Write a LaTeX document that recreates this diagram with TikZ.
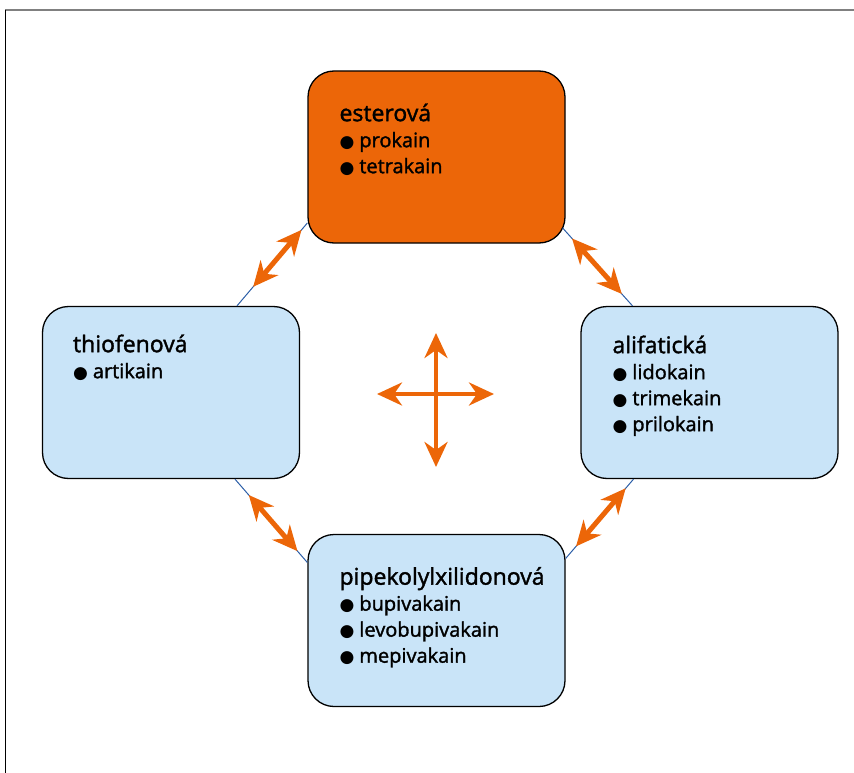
\documentclass[tikz,border=0pt]{standalone}
\usepackage{fontspec}
\setmainfont{Open Sans}[FakeBold=1.6]
\newfontfamily\symfont{DejaVu Sans}
\usetikzlibrary{arrows.meta,positioning}
\definecolor{esterorange}{RGB}{236,102,8}
\definecolor{groupblue}{RGB}{201,228,248}
\definecolor{linkblue}{RGB}{43,94,167}
\newcommand{\blt}{{\symfont\fontsize{17}{17}\selectfont ●}\hspace{5pt}}
\newcommand{\grp}[1]{{\fontsize{23}{26}\selectfont #1}}

\begin{document}
\begin{tikzpicture}[x=1pt,y=-1pt,
  group/.style={draw=black, line width=1.3pt, rounded corners=26pt,
    minimum width=257pt, minimum height=172pt, inner sep=0pt},
  names/.style={anchor=north west, align=left, inner sep=0pt,
    font=\fontsize{20}{26}\selectfont},
  link/.style={draw=linkblue, line width=1pt},
  swap/.style={draw=esterorange, line width=5pt,
    {Stealth[length=25pt,width=23pt,inset=8pt]}-{Stealth[length=25pt,width=23pt,inset=8pt]}}]
\useasboundingbox (0,0) rectangle (854,773);
\draw[gray, line width=2pt] (5,10) -- (854,10);
\draw[black, line width=0.8pt] (5,10) -- (5,773);

\node[group, fill=esterorange] (ester) at (436.5,157) {};
\node[group, fill=groupblue] (thio) at (171,392.5) {};
\node[group, fill=groupblue] (alif) at (709.5,392.5) {};
\node[group, fill=groupblue] (pipek) at (436.5,620.5) {};

\node[names] (esterT) at ([xshift=32pt,yshift=-33pt]ester.north west)
  {\grp{esterová}\\\blt prokain\\\blt tetrakain};
\node[names] (thioT) at ([xshift=31pt,yshift=-28.5pt]thio.north west)
  {\grp{thiofenová}\\\blt artikain};
\node[names] (alifT) at ([xshift=32pt,yshift=-29.5pt]alif.north west)
  {\grp{alifatická}\\\blt lidokain\\\blt trimekain\\\blt prilokain};
\node[names] (pipekT) at ([xshift=32pt,yshift=-33pt]pipek.north west)
  {\grp{pipekolylxilidonová}\\\blt bupivakain\\\blt levobupivakain\\\blt mepivakain};

% link ends on the box edges
\coordinate (thioN) at ([xshift=66pt]thio.north);
\coordinate (esterW) at ([yshift=-66pt]ester.west);
\coordinate (esterE) at ([xshift=-3pt,yshift=-71pt]ester.east);
\coordinate (alifN) at ([xshift=-77pt]alif.north);
\coordinate (thioS) at ([xshift=64pt]thio.south);
\coordinate (pipekW) at ([yshift=58pt]pipek.west);
\coordinate (alifS) at ([xshift=-76pt]alif.south);
\coordinate (pipekE) at ([yshift=62pt]pipek.east);

\foreach \a/\b/\sa/\sb in {thioN/esterW/25/9, esterE/alifN/14/16,
    thioS/pipekW/21/15, alifS/pipekE/12/16}{
  \draw[link] (\a) -- (\b);
  \draw[swap, shorten <=\sa pt, shorten >=\sb pt] (\a) -- (\b);
}

% cross in the middle
\coordinate (hub) at (436,394);
\draw[swap, line width=4pt] ([xshift=-59pt]hub) -- ([xshift=58pt]hub);
\draw[swap, line width=4pt] ([yshift=61pt]hub) -- ([yshift=-73pt]hub);
\end{tikzpicture}
\end{document}
